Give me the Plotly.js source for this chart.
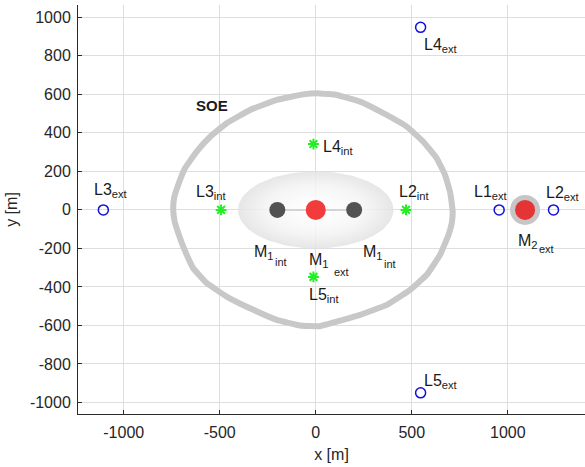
<!DOCTYPE html>
<html>
<head>
<meta charset="utf-8">
<script src="https://cdn.plot.ly/plotly-3.0.1.min.js"></script>
<style>html,body{margin:0;padding:0;background:#fff;}#chart{width:585px;height:467px;}</style>
</head>
<body>
<div id="chart"></div>
<script>
// ---- data ----
var soeX = [22, -65, -203, -342, -464, -550, -620, -681, -716, -738, -742, -735, -716, -684, -638, -568, -464, -325, -203, -82, 22, 109, 231, 370, 491, 578, 647, 691, 708, 713, 706, 699, 673, 630, 560, 474, 352, 231, 109, 22];
var soeY = [605, 600, 571, 519, 450, 380, 303, 216, 130, 60, 0, -60, -120, -205, -303, -380, -450, -519, -571, -600, -604, -580, -545, -493, -415, -337, -234, -130, -70, -10, 50, 95, 182, 268, 354, 432, 502, 562, 597, 605];
var ellipseCenter = [0, 0];
var ellipseSemiAxes = [405, 200];
var m1IntX = [-200, 200], m1IntY = [0, 0];
var m1ExtX = [0], m1ExtY = [0];
var m2ExtX = [1090], m2ExtY = [0];
var lIntNames = ['L2', 'L3', 'L4', 'L5'];
var lIntX = [470, -493, -12, -12];
var lIntY = [0, 0, 342, -348];
var lExtNames = ['L1', 'L2', 'L3', 'L4', 'L5'];
var lExtX = [955, 1238, -1106, 546, 546];
var lExtY = [0, 0, 0, 948, -950];
var xTicks = [-1000, -500, 0, 500, 1000];
var yTicks = [-1000, -800, -600, -400, -200, 0, 200, 400, 600, 800, 1000];

// ellipse outline built from its centre and semi-axes
var ex = [], ey = [];
for (var i = 0; i <= 120; i++) {
  var t = 2 * Math.PI * i / 120;
  ex.push(ellipseCenter[0] + ellipseSemiAxes[0] * Math.cos(t));
  ey.push(ellipseCenter[1] + ellipseSemiAxes[1] * Math.sin(t));
}

var traces = [
  {x: soeX, y: soeY, mode: 'lines', line: {color: '#c8c8c8', width: 6, shape: 'spline', smoothing: 0.3}, hoverinfo: 'skip'},
  {x: ex, y: ey, mode: 'lines', fill: 'toself', line: {width: 0, color: 'rgba(0,0,0,0)'},
   fillgradient: {type: 'radial', colorscale: [[0, 'rgba(255,255,255,0.85)'], [0.35, 'rgba(250,250,250,0.85)'], [0.65, 'rgba(243,243,243,0.85)'], [1, 'rgba(226,226,226,0.85)']]}, hoverinfo: 'skip'},
  {x: m1IntX, y: m1IntY, mode: 'lines', line: {color: '#d4d4d4', width: 2}, hoverinfo: 'skip'},
  {x: m1IntX, y: m1IntY, mode: 'markers', marker: {size: 16, color: '#525252'}},
  {x: m1ExtX, y: m1ExtY, mode: 'markers', marker: {size: 20, color: '#f23c3c'}},
  {x: m2ExtX, y: m2ExtY, mode: 'markers', marker: {size: 30, color: '#c6c6c6'}},
  {x: m2ExtX, y: m2ExtY, mode: 'markers', marker: {size: 20, color: '#e43434'}},
  {x: lIntX, y: lIntY, text: lIntNames, mode: 'markers', marker: {symbol: 'asterisk-open', size: 9, color: '#22ee22', line: {color: '#22ee22', width: 2}}},
  {x: lExtX, y: lExtY, text: lExtNames, mode: 'markers', marker: {symbol: 'circle-open', size: 10, color: '#1010e0', line: {color: '#1010e0', width: 1.5}}}
];

var F = 'Liberation Sans, Arial, Helvetica, sans-serif';
function lab(text, x, y, size, extra) {
  var a = {text: text, x: x, y: y, xref: 'x', yref: 'y', showarrow: false, xanchor: 'left', yanchor: 'bottom',
    font: {family: F, size: size || 16, color: '#1a1a1a'}, borderpad: 0};
  if (extra) for (var k in extra) a[k] = extra[k];
  return a;
}
var ann = [
  lab('L3<sub>ext</sub>', -1159, 45),
  lab('L3<sub>int</sub>', -629, 38),
  lab('L2<sub>int</sub>', 430, 38),
  lab('L1<sub>ext</sub>', 821, 38),
  lab('L2<sub>ext</sub>', 1194, 32),
  lab('L4<sub>int</sub>', 31, 272),
  lab('L4<sub>ext</sub>', 560, 798),
  lab('L5<sub>ext</sub>', 560, -948),
  lab('L5<sub>int</sub>', -38, -498),
  lab('<b>SOE</b>', -539, 540, 15, {xanchor: 'center', yanchor: 'middle'}),
  lab('M<sub>2</sub>', 1047, -220),
  lab('ext', 1158, -240, 11),
  lab('M<sub>1</sub>', -325, -274),
  lab('int', -217, -305, 11),
  lab('M<sub>1</sub>', -40, -315),
  lab('ext', 90, -359, 11),
  lab('M<sub>1</sub>', 240, -274),
  lab('int', 348, -315, 11)
];

var axisCommon = {
  showgrid: true, gridcolor: '#dedede', gridwidth: 1, zeroline: false,
  showline: true, linecolor: '#2b2b2b', linewidth: 1, mirror: false,
  ticks: 'inside', ticklen: 4, tickcolor: '#2b2b2b', tickwidth: 1,
  tickfont: {family: F, size: 16, color: '#262626'}, automargin: false
};
var layout = {
  width: 585, height: 467,
  margin: {l: 78, r: 0, t: 5, b: 53},
  paper_bgcolor: '#ffffff', plot_bgcolor: '#ffffff',
  showlegend: false,
  xaxis: Object.assign({}, axisCommon, {range: [-1238, 1402], tickvals: xTicks, ticktext: xTicks.map(String),
    ticklabelstandoff: 4,
    title: {text: 'x [m]', font: {family: F, size: 16, color: '#262626'}, standoff: 8}}),
  yaxis: Object.assign({}, axisCommon, {range: [-1060, 1064], tickvals: yTicks, ticktext: yTicks.map(String),
    ticklabelstandoff: 3,
    title: {text: 'y [m]', font: {family: F, size: 16, color: '#262626'}, standoff: 8}}),
  annotations: ann
};
Plotly.newPlot('chart', traces, layout, {displayModeBar: false, staticPlot: true});
</script>
</body>
</html>
